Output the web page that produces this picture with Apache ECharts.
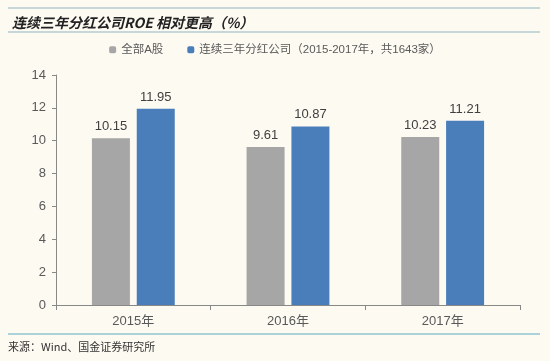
<!DOCTYPE html>
<html><head><meta charset="utf-8">
<script src="https://cdn.jsdelivr.net/npm/echarts@6/dist/echarts.min.js"></script>
<style>html,body{margin:0;padding:0;background:#fdfaf2;}#c{width:550px;height:361px;}</style>
</head><body><div id="c"></div>
<script>
const categories = ['2015年', '2016年', '2017年'];
const allA = [10.15, 9.61, 10.23];
const dividend = [11.95, 10.87, 11.21];
const seriesNames = ['全部A股', '连续三年分红公司（2015-2017年，共1643家）'];
const yTicks = [0, 2, 4, 6, 8, 10, 12, 14];

const chart = echarts.init(document.getElementById('c'));
const font = '"Liberation Sans", "Noto Sans CJK SC", sans-serif';
const cjk = '"Noto Sans CJK SC", sans-serif';
chart.setOption({
  backgroundColor: '#fdfaf2',
  animation: false,
  title: {
    text: '连续三年分红公司ROE 相对更高（%）',
    left: 7, top: 11,
    textStyle: { fontFamily: cjk, fontSize: 14, fontWeight: 'bold', fontStyle: 'italic', color: '#222' }
  },
  graphic: [
    { type: 'line', shape: { x1: 8, y1: 8, x2: 540, y2: 8 }, style: { stroke: '#8fb3c0', lineWidth: 1 } },
    { type: 'line', shape: { x1: 8, y1: 32, x2: 540, y2: 32 }, style: { stroke: '#8fb3c0', lineWidth: 1 } },
    { type: 'line', shape: { x1: 8, y1: 334, x2: 540, y2: 334 }, style: { stroke: '#8fc3d0', lineWidth: 1.5 } },
    { type: 'text', left: 8, top: 341, style: { text: '来源：Wind、国金证券研究所', fontFamily: cjk, fontSize: 11, fill: '#333' } }
  ],
  legend: {
    top: 39, left: 'center',
    itemWidth: 7, itemHeight: 7, itemGap: 24,
    textStyle: { fontFamily: font, fontSize: 11.5, color: '#595959' },
    data: seriesNames
  },
  grid: { left: 56, right: 30, top: 75, bottom: 56 },
  xAxis: {
    type: 'category', data: categories,
    axisLine: { lineStyle: { color: '#888' } },
    axisTick: { show: true, lineStyle: { color: '#888' } },
    axisLabel: { fontFamily: font, fontSize: 13, color: '#595959', margin: 10 }
  },
  yAxis: {
    type: 'value', min: yTicks[0], max: yTicks[yTicks.length - 1], interval: 2,
    axisLine: { show: true, lineStyle: { color: '#888' } },
    axisTick: { show: true, length: 4, lineStyle: { color: '#888' } },
    splitLine: { show: false },
    axisLabel: { fontFamily: font, fontSize: 13, color: '#595959', margin: 10 }
  },
  series: [
    {
      name: seriesNames[0], type: 'bar', data: allA, barWidth: 38, barGap: '18%',
      itemStyle: { color: '#a6a6a6' },
      label: { show: true, position: 'top', fontFamily: font, fontSize: 13, color: '#404040', formatter: p => p.value.toFixed(2) }
    },
    {
      name: seriesNames[1], type: 'bar', data: dividend, barWidth: 38,
      itemStyle: { color: '#4a7ebb' },
      label: { show: true, position: 'top', fontFamily: font, fontSize: 13, color: '#404040', formatter: p => p.value.toFixed(2) }
    }
  ]
});
</script></body></html>
